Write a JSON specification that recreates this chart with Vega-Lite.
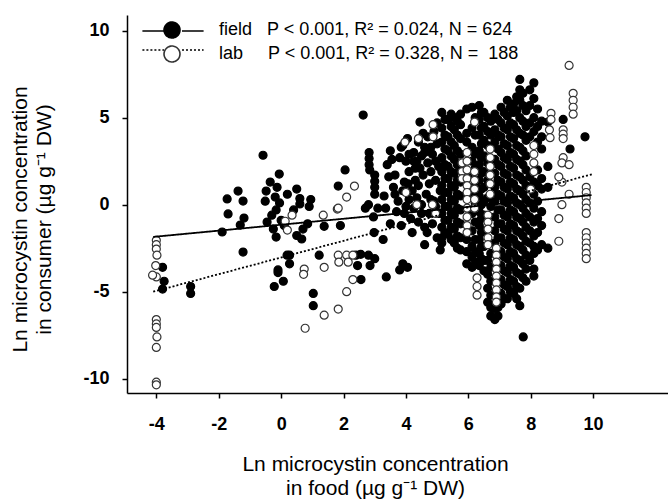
{
"$schema": "https://vega.github.io/schema/vega-lite/v6.json",
"width": 541, "height": 378,
"autosize": {"type": "none"},
"padding": {"left": 127, "top": 15, "right": 0, "bottom": 110},
"background": "white",
"config": {"view": {"stroke": null}, "font": "Liberation Sans"},
"datasets": {
"pts": [
{"g":"f","x":-3.8,"y":-3.6},{"g":"f","x":-3.8,"y":-4.85},{"g":"f","x":-2.9,"y":-4.7},{"g":"f","x":-2.9,"y":-5.1},{"g":"f","x":-3.75,"y":-4.4},
{"g":"f","x":-0.58,"y":2.84},{"g":"f","x":-0.06,"y":1.76},{"g":"f","x":-0.13,"y":1.0},{"g":"f","x":-0.48,"y":0.78},{"g":"f","x":-0.19,"y":0.44},{"g":"f","x":-0.51,"y":0.2},{"g":"f","x":-1.38,"y":0.78},{"g":"f","x":-1.73,"y":0.33},{"g":"f","x":-1.22,"y":0.21},{"g":"f","x":-1.7,"y":-0.53},{"g":"f","x":-1.19,"y":-0.77},{"g":"f","x":-0.16,"y":-0.3},{"g":"f","x":-0.45,"y":-1.0},{"g":"f","x":-1.31,"y":-1.17},{"g":"f","x":-1.89,"y":-1.57},{"g":"f","x":-0.16,"y":-1.86},{"g":"f","x":-1.22,"y":-2.72},{"g":"f","x":0.19,"y":-2.9},{"g":"f","x":-0.1,"y":-3.75},{"g":"f","x":-0.3,"y":-0.6},{"g":"f","x":-0.05,"y":0.1},{"g":"f","x":0.0,"y":-0.9},{"g":"f","x":-0.25,"y":-1.4},{"g":"f","x":0.1,"y":-1.2},{"g":"f","x":-0.35,"y":1.3},
{"g":"f","x":0.6,"y":0.04},{"g":"f","x":0.9,"y":-0.1},{"g":"f","x":0.5,"y":-1.77},{"g":"f","x":0.66,"y":-1.97},{"g":"f","x":0.7,"y":-1.4},{"g":"f","x":0.85,"y":-1.1},{"g":"f","x":0.27,"y":-2.9},{"g":"f","x":0.27,"y":-3.4},{"g":"f","x":-0.1,"y":-3.9},{"g":"f","x":0.07,"y":-4.4},{"g":"f","x":-0.22,"y":-4.7},{"g":"f","x":1.03,"y":-5.1},{"g":"f","x":1.03,"y":-5.8},{"g":"f","x":1.22,"y":-2.9},{"g":"f","x":1.38,"y":-1.24},{"g":"f","x":1.9,"y":-1.2},{"g":"f","x":2.7,"y":-0.2},{"g":"f","x":2.96,"y":-0.7},{"g":"f","x":2.98,"y":-1.6},{"g":"f","x":3.27,"y":-2.0},{"g":"f","x":3.37,"y":-4.15},{"g":"f","x":2.4,"y":-2.9},{"g":"f","x":2.55,"y":-2.85},{"g":"f","x":2.8,"y":-2.9},{"g":"f","x":3.0,"y":-3.1},{"g":"f","x":2.85,"y":-3.5},{"g":"f","x":2.45,"y":-3.5},{"g":"f","x":3.9,"y":-3.4},{"g":"f","x":4.05,"y":-3.6},{"g":"f","x":3.8,"y":-3.75},{"g":"f","x":2.56,"y":-4.3},{"g":"f","x":4.6,"y":-2.3},{"g":"f","x":2.63,"y":5.15},{"g":"f","x":2.05,"y":2.0},{"g":"f","x":1.83,"y":1.07},{"g":"f","x":0.5,"y":0.9},{"g":"f","x":0.6,"y":0.35},{"g":"f","x":0.95,"y":0.3},{"g":"f","x":2.8,"y":0.0},{"g":"f","x":3.1,"y":-0.2},{"g":"f","x":3.65,"y":1.7},{"g":"f","x":4.07,"y":1.2},{"g":"f","x":2.82,"y":3.0},{"g":"f","x":2.82,"y":2.65},{"g":"f","x":2.82,"y":2.3},{"g":"f","x":2.84,"y":2.0},{"g":"f","x":3.0,"y":1.7},{"g":"f","x":3.0,"y":1.35},{"g":"f","x":3.0,"y":1.0},{"g":"f","x":3.0,"y":0.6},{"g":"f","x":3.85,"y":3.3},{"g":"f","x":4.1,"y":2.9},{"g":"f","x":4.35,"y":2.5},{"g":"f","x":4.6,"y":3.0},{"g":"f","x":4.45,"y":4.75},{"g":"f","x":0.4,"y":-0.3},{"g":"f","x":0.2,"y":0.6},
{"g":"f","x":3.4,"y":2.3},{"g":"f","x":3.5,"y":3.1},{"g":"f","x":3.6,"y":1.0},{"g":"f","x":3.3,"y":0.5},{"g":"f","x":3.7,"y":-0.4},{"g":"f","x":3.5,"y":-1.1},{"g":"f","x":3.8,"y":2.7},{"g":"f","x":3.45,"y":1.6},{"g":"f","x":3.75,"y":0.2},{"g":"f","x":3.35,"y":-0.2},
{"g":"f","x":3.9,"y":3.4},{"g":"f","x":4.0,"y":2.5},{"g":"f","x":4.1,"y":1.9},{"g":"f","x":3.95,"y":1.3},{"g":"f","x":4.2,"y":0.8},{"g":"f","x":4.0,"y":-0.1},{"g":"f","x":4.15,"y":-0.8},{"g":"f","x":4.25,"y":3.0},{"g":"f","x":4.3,"y":2.1},{"g":"f","x":3.85,"y":-1.2},{"g":"f","x":4.1,"y":0.3},{"g":"f","x":4.2,"y":-1.6},{"g":"f","x":4.3,"y":1.4},
{"g":"f","x":4.4,"y":3.6},{"g":"f","x":4.5,"y":2.8},{"g":"f","x":4.6,"y":3.3},{"g":"f","x":4.7,"y":2.4},{"g":"f","x":4.55,"y":1.7},{"g":"f","x":4.4,"y":1.1},{"g":"f","x":4.65,"y":0.6},{"g":"f","x":4.5,"y":0.0},{"g":"f","x":4.75,"y":-0.5},{"g":"f","x":4.4,"y":-1.0},{"g":"f","x":4.6,"y":-1.3},{"g":"f","x":4.8,"y":1.9},{"g":"f","x":4.35,"y":0.4},{"g":"f","x":4.7,"y":3.9},{"g":"f","x":4.68,"y":-1.6},
{"g":"f","x":4.9,"y":4.2},{"g":"f","x":5.0,"y":3.5},{"g":"f","x":4.85,"y":2.9},{"g":"f","x":5.05,"y":2.2},{"g":"f","x":4.95,"y":1.4},{"g":"f","x":5.1,"y":0.8},{"g":"f","x":4.9,"y":0.2},{"g":"f","x":5.05,"y":-0.5},{"g":"f","x":4.85,"y":-1.1},{"g":"f","x":5.0,"y":-1.9},{"g":"f","x":5.1,"y":-2.6},{"g":"f","x":4.95,"y":2.5},
{"g":"f","x":3.55,"y":2.6},{"g":"f","x":3.65,"y":0.6},{"g":"f","x":3.9,"y":0.8},{"g":"f","x":3.95,"y":-0.5},{"g":"f","x":4.05,"y":3.8},{"g":"f","x":4.25,"y":2.5},{"g":"f","x":4.25,"y":-0.2},{"g":"f","x":4.45,"y":2.1},{"g":"f","x":4.5,"y":-0.5},{"g":"f","x":4.55,"y":4.1},{"g":"f","x":4.75,"y":1.2},{"g":"f","x":4.8,"y":0.3},{"g":"f","x":4.8,"y":3.3},{"g":"f","x":4.95,"y":-0.1},{"g":"f","x":5.0,"y":4.7},
{"g":"f","x":5.15,"y":5.3},{"g":"f","x":5.15,"y":4.4},{"g":"f","x":5.15,"y":3.6},{"g":"f","x":5.15,"y":2.7},{"g":"f","x":5.15,"y":1.9},{"g":"f","x":5.15,"y":1.1},{"g":"f","x":5.15,"y":0.3},{"g":"f","x":5.15,"y":-0.5},{"g":"f","x":5.15,"y":-1.3},{"g":"f","x":5.15,"y":-1.9},{"g":"f","x":5.15,"y":-2.2},
{"g":"f","x":5.25,"y":4.9},{"g":"f","x":5.25,"y":4.0},{"g":"f","x":5.25,"y":3.2},{"g":"f","x":5.25,"y":2.3},{"g":"f","x":5.25,"y":1.5},{"g":"f","x":5.25,"y":0.7},{"g":"f","x":5.25,"y":-0.1},{"g":"f","x":5.25,"y":-0.9},{"g":"f","x":5.25,"y":-1.6},
{"g":"f","x":5.35,"y":4.9},{"g":"f","x":5.35,"y":3.9},{"g":"f","x":5.35,"y":3.1},{"g":"f","x":5.35,"y":2.2},{"g":"f","x":5.35,"y":1.5},{"g":"f","x":5.35,"y":0.7},{"g":"f","x":5.35,"y":-0.1},{"g":"f","x":5.35,"y":-0.9},{"g":"f","x":5.35,"y":-1.7},
{"g":"f","x":5.45,"y":5.2},{"g":"f","x":5.45,"y":4.5},{"g":"f","x":5.45,"y":3.6},{"g":"f","x":5.45,"y":2.8},{"g":"f","x":5.45,"y":1.9},{"g":"f","x":5.45,"y":1.1},{"g":"f","x":5.45,"y":0.3},{"g":"f","x":5.45,"y":-0.5},{"g":"f","x":5.45,"y":-1.3},{"g":"f","x":5.45,"y":-2.0},
{"g":"f","x":5.55,"y":5.0},{"g":"f","x":5.55,"y":4.3},{"g":"f","x":5.55,"y":3.4},{"g":"f","x":5.55,"y":2.6},{"g":"f","x":5.55,"y":1.8},{"g":"f","x":5.55,"y":1.0},{"g":"f","x":5.55,"y":0.2},{"g":"f","x":5.55,"y":-0.6},{"g":"f","x":5.55,"y":-1.4},{"g":"f","x":5.55,"y":-2.2},
{"g":"f","x":5.65,"y":4.8},{"g":"f","x":5.65,"y":4.0},{"g":"f","x":5.65,"y":3.1},{"g":"f","x":5.65,"y":2.3},{"g":"f","x":5.65,"y":1.4},{"g":"f","x":5.65,"y":0.6},{"g":"f","x":5.65,"y":-0.2},{"g":"f","x":5.65,"y":-1.0},{"g":"f","x":5.65,"y":-1.8},{"g":"f","x":5.65,"y":-2.5},
{"g":"f","x":5.75,"y":5.2},{"g":"f","x":5.75,"y":4.6},{"g":"f","x":5.75,"y":3.8},{"g":"f","x":5.75,"y":2.9},{"g":"f","x":5.75,"y":2.1},{"g":"f","x":5.75,"y":1.3},{"g":"f","x":5.75,"y":0.5},{"g":"f","x":5.75,"y":-0.3},{"g":"f","x":5.75,"y":-1.1},{"g":"f","x":5.75,"y":-1.9},{"g":"f","x":5.75,"y":-2.6},
{"g":"f","x":5.95,"y":5.5},{"g":"f","x":5.95,"y":4.1},{"g":"f","x":5.95,"y":3.6},{"g":"f","x":5.95,"y":-2.0},{"g":"f","x":5.95,"y":-2.7},{"g":"f","x":5.95,"y":-3.4},
{"g":"f","x":6.12,"y":5.6},{"g":"f","x":6.12,"y":4.4},{"g":"f","x":6.12,"y":3.3},{"g":"f","x":6.12,"y":2.5},{"g":"f","x":6.12,"y":1.6},{"g":"f","x":6.12,"y":0.6},{"g":"f","x":6.12,"y":-0.5},{"g":"f","x":6.12,"y":-1.5},{"g":"f","x":6.12,"y":-2.4},{"g":"f","x":6.12,"y":-3.0},{"g":"f","x":6.12,"y":-3.6},
{"g":"f","x":6.22,"y":5.0},{"g":"f","x":6.22,"y":4.0},{"g":"f","x":6.22,"y":2.9},{"g":"f","x":6.22,"y":2.1},{"g":"f","x":6.22,"y":1.1},{"g":"f","x":6.22,"y":0.1},{"g":"f","x":6.22,"y":-1.0},{"g":"f","x":6.22,"y":-2.0},{"g":"f","x":6.22,"y":-2.7},{"g":"f","x":6.22,"y":-3.3},
{"g":"f","x":6.35,"y":5.7},{"g":"f","x":6.35,"y":4.9},{"g":"f","x":6.35,"y":4.0},{"g":"f","x":6.35,"y":3.1},{"g":"f","x":6.35,"y":2.3},{"g":"f","x":6.35,"y":1.4},{"g":"f","x":6.35,"y":0.5},{"g":"f","x":6.35,"y":-0.4},{"g":"f","x":6.35,"y":-1.2},{"g":"f","x":6.35,"y":-2.0},{"g":"f","x":6.35,"y":-2.8},{"g":"f","x":6.35,"y":-3.5},
{"g":"f","x":6.42,"y":5.3},{"g":"f","x":6.42,"y":4.4},{"g":"f","x":6.42,"y":3.5},{"g":"f","x":6.42,"y":2.7},{"g":"f","x":6.42,"y":1.8},{"g":"f","x":6.42,"y":0.9},{"g":"f","x":6.42,"y":0.0},{"g":"f","x":6.42,"y":-0.8},{"g":"f","x":6.42,"y":-1.6},{"g":"f","x":6.42,"y":-2.4},{"g":"f","x":6.42,"y":-3.1},
{"g":"f","x":6.5,"y":5.3},{"g":"f","x":6.5,"y":4.5},{"g":"f","x":6.5,"y":3.7},{"g":"f","x":6.5,"y":2.8},{"g":"f","x":6.5,"y":1.9},{"g":"f","x":6.5,"y":1.0},{"g":"f","x":6.5,"y":0.2},{"g":"f","x":6.5,"y":-0.6},{"g":"f","x":6.5,"y":-1.5},{"g":"f","x":6.5,"y":-2.4},{"g":"f","x":6.5,"y":-3.2},{"g":"f","x":6.5,"y":-3.8},
{"g":"f","x":6.62,"y":5.0},{"g":"f","x":6.62,"y":4.2},{"g":"f","x":6.62,"y":3.4},{"g":"f","x":6.62,"y":2.4},{"g":"f","x":6.62,"y":1.4},{"g":"f","x":6.62,"y":0.4},{"g":"f","x":6.62,"y":-3.2},{"g":"f","x":6.62,"y":-4.0},{"g":"f","x":6.62,"y":-4.8},{"g":"f","x":6.62,"y":-5.6},
{"g":"f","x":6.72,"y":4.8},{"g":"f","x":6.72,"y":4.0},{"g":"f","x":6.72,"y":-0.1},{"g":"f","x":6.72,"y":-2.8},{"g":"f","x":6.72,"y":-3.6},{"g":"f","x":6.72,"y":-4.4},{"g":"f","x":6.72,"y":-5.2},{"g":"f","x":6.72,"y":-5.9},{"g":"f","x":6.72,"y":-6.4},
{"g":"f","x":6.85,"y":5.2},{"g":"f","x":6.85,"y":4.3},{"g":"f","x":6.85,"y":3.6},{"g":"f","x":6.85,"y":2.6},{"g":"f","x":6.85,"y":1.8},{"g":"f","x":6.85,"y":1.0},{"g":"f","x":6.85,"y":0.2},{"g":"f","x":6.85,"y":-0.7},{"g":"f","x":6.85,"y":-1.5},{"g":"f","x":6.85,"y":-2.2},{"g":"f","x":6.85,"y":-6.0},{"g":"f","x":6.85,"y":-6.6},
{"g":"f","x":6.95,"y":4.9},{"g":"f","x":6.95,"y":4.0},{"g":"f","x":6.95,"y":3.2},{"g":"f","x":6.95,"y":2.3},{"g":"f","x":6.95,"y":1.4},{"g":"f","x":6.95,"y":0.6},{"g":"f","x":6.95,"y":-0.3},{"g":"f","x":6.95,"y":-1.1},{"g":"f","x":6.95,"y":-1.9},{"g":"f","x":6.95,"y":-5.9},{"g":"f","x":6.95,"y":-6.4},
{"g":"f","x":7.05,"y":5.6},{"g":"f","x":7.05,"y":4.7},{"g":"f","x":7.05,"y":3.9},{"g":"f","x":7.05,"y":3.0},{"g":"f","x":7.05,"y":2.2},{"g":"f","x":7.05,"y":1.3},{"g":"f","x":7.05,"y":0.5},{"g":"f","x":7.05,"y":-0.3},{"g":"f","x":7.05,"y":-1.1},{"g":"f","x":7.05,"y":-1.9},{"g":"f","x":7.05,"y":-2.7},{"g":"f","x":7.05,"y":-3.5},{"g":"f","x":7.05,"y":-4.3},{"g":"f","x":7.05,"y":-5.1},{"g":"f","x":7.05,"y":-5.7},
{"g":"f","x":7.15,"y":5.3},{"g":"f","x":7.15,"y":4.4},{"g":"f","x":7.15,"y":3.5},{"g":"f","x":7.15,"y":2.7},{"g":"f","x":7.15,"y":1.8},{"g":"f","x":7.15,"y":1.0},{"g":"f","x":7.15,"y":0.2},{"g":"f","x":7.15,"y":-0.6},{"g":"f","x":7.15,"y":-1.4},{"g":"f","x":7.15,"y":-2.2},{"g":"f","x":7.15,"y":-3.0},{"g":"f","x":7.15,"y":-3.8},{"g":"f","x":7.15,"y":-4.6},{"g":"f","x":7.15,"y":-5.4},
{"g":"f","x":7.25,"y":6.0},{"g":"f","x":7.25,"y":5.1},{"g":"f","x":7.25,"y":4.3},{"g":"f","x":7.25,"y":3.4},{"g":"f","x":7.25,"y":2.6},{"g":"f","x":7.25,"y":1.7},{"g":"f","x":7.25,"y":0.9},{"g":"f","x":7.25,"y":0.1},{"g":"f","x":7.25,"y":-0.7},{"g":"f","x":7.25,"y":-1.5},{"g":"f","x":7.25,"y":-2.3},{"g":"f","x":7.25,"y":-3.1},{"g":"f","x":7.25,"y":-3.9},{"g":"f","x":7.25,"y":-4.7},{"g":"f","x":7.25,"y":-5.4},
{"g":"f","x":7.35,"y":5.6},{"g":"f","x":7.35,"y":4.7},{"g":"f","x":7.35,"y":3.9},{"g":"f","x":7.35,"y":3.0},{"g":"f","x":7.35,"y":2.2},{"g":"f","x":7.35,"y":1.3},{"g":"f","x":7.35,"y":0.5},{"g":"f","x":7.35,"y":-0.3},{"g":"f","x":7.35,"y":-1.1},{"g":"f","x":7.35,"y":-1.9},{"g":"f","x":7.35,"y":-2.7},{"g":"f","x":7.35,"y":-3.5},{"g":"f","x":7.35,"y":-4.3},{"g":"f","x":7.35,"y":-5.0},
{"g":"f","x":7.45,"y":5.8},{"g":"f","x":7.45,"y":5.3},{"g":"f","x":7.45,"y":4.6},{"g":"f","x":7.45,"y":3.8},{"g":"f","x":7.45,"y":2.9},{"g":"f","x":7.45,"y":2.1},{"g":"f","x":7.45,"y":1.2},{"g":"f","x":7.45,"y":0.4},{"g":"f","x":7.45,"y":-0.4},{"g":"f","x":7.45,"y":-1.2},{"g":"f","x":7.45,"y":-2.0},{"g":"f","x":7.45,"y":-2.8},{"g":"f","x":7.45,"y":-3.6},{"g":"f","x":7.45,"y":-4.4},{"g":"f","x":7.45,"y":-5.1},
{"g":"f","x":7.55,"y":6.2},{"g":"f","x":7.55,"y":5.4},{"g":"f","x":7.55,"y":4.3},{"g":"f","x":7.55,"y":3.4},{"g":"f","x":7.55,"y":2.6},{"g":"f","x":7.55,"y":1.7},{"g":"f","x":7.55,"y":0.9},{"g":"f","x":7.55,"y":0.1},{"g":"f","x":7.55,"y":-0.7},{"g":"f","x":7.55,"y":-1.5},{"g":"f","x":7.55,"y":-2.3},{"g":"f","x":7.55,"y":-3.1},{"g":"f","x":7.55,"y":-3.9},{"g":"f","x":7.55,"y":-4.7},{"g":"f","x":7.55,"y":-5.4},
{"g":"f","x":7.65,"y":7.2},{"g":"f","x":7.65,"y":6.6},{"g":"f","x":7.65,"y":6.0},{"g":"f","x":7.65,"y":5.0},{"g":"f","x":7.65,"y":4.1},{"g":"f","x":7.65,"y":3.3},{"g":"f","x":7.65,"y":2.5},{"g":"f","x":7.65,"y":1.6},{"g":"f","x":7.65,"y":0.8},{"g":"f","x":7.65,"y":0.0},{"g":"f","x":7.65,"y":-0.8},{"g":"f","x":7.65,"y":-1.6},{"g":"f","x":7.65,"y":-2.4},{"g":"f","x":7.65,"y":-3.2},{"g":"f","x":7.65,"y":-4.0},{"g":"f","x":7.65,"y":-4.8},{"g":"f","x":7.65,"y":-5.8},{"g":"f","x":7.76,"y":-7.6},
{"g":"f","x":7.75,"y":6.4},{"g":"f","x":7.75,"y":5.7},{"g":"f","x":7.75,"y":4.8},{"g":"f","x":7.75,"y":4.0},{"g":"f","x":7.75,"y":3.1},{"g":"f","x":7.75,"y":2.3},{"g":"f","x":7.75,"y":1.4},{"g":"f","x":7.75,"y":0.6},{"g":"f","x":7.75,"y":-0.2},{"g":"f","x":7.75,"y":-1.0},{"g":"f","x":7.75,"y":-1.8},{"g":"f","x":7.75,"y":-2.6},{"g":"f","x":7.75,"y":-3.4},{"g":"f","x":7.75,"y":-4.2},
{"g":"f","x":7.85,"y":5.4},{"g":"f","x":7.85,"y":4.5},{"g":"f","x":7.85,"y":3.7},{"g":"f","x":7.85,"y":2.8},{"g":"f","x":7.85,"y":2.0},{"g":"f","x":7.85,"y":1.1},{"g":"f","x":7.85,"y":0.3},{"g":"f","x":7.85,"y":-0.5},{"g":"f","x":7.85,"y":-1.3},{"g":"f","x":7.85,"y":-2.1},{"g":"f","x":7.85,"y":-2.9},{"g":"f","x":7.85,"y":-3.7},{"g":"f","x":7.85,"y":-4.4},
{"g":"f","x":7.97,"y":6.6},{"g":"f","x":7.97,"y":5.7},{"g":"f","x":7.97,"y":4.7},{"g":"f","x":7.97,"y":3.9},{"g":"f","x":7.97,"y":1.6},{"g":"f","x":7.97,"y":0.9},{"g":"f","x":7.97,"y":0.1},{"g":"f","x":7.97,"y":-0.7},{"g":"f","x":7.97,"y":-1.5},{"g":"f","x":7.97,"y":-2.2},{"g":"f","x":7.97,"y":-3.2},
{"g":"f","x":8.1,"y":7.0},{"g":"f","x":8.1,"y":6.1},{"g":"f","x":8.1,"y":5.0},{"g":"f","x":8.1,"y":4.2},{"g":"f","x":8.1,"y":1.3},{"g":"f","x":8.1,"y":0.6},{"g":"f","x":8.1,"y":-0.2},{"g":"f","x":8.1,"y":-1.0},{"g":"f","x":8.1,"y":-1.8},{"g":"f","x":8.1,"y":-2.4},{"g":"f","x":8.1,"y":-2.8},{"g":"f","x":8.1,"y":-3.7},{"g":"f","x":8.1,"y":-4.1},
{"g":"f","x":8.22,"y":5.5},{"g":"f","x":8.22,"y":4.5},{"g":"f","x":8.22,"y":3.6},{"g":"f","x":8.22,"y":2.0},{"g":"f","x":8.22,"y":1.1},{"g":"f","x":8.22,"y":0.2},{"g":"f","x":8.22,"y":-0.8},{"g":"f","x":8.22,"y":-1.6},{"g":"f","x":8.22,"y":-2.6},
{"g":"f","x":8.35,"y":4.8},{"g":"f","x":8.35,"y":3.9},{"g":"f","x":8.35,"y":3.2},{"g":"f","x":8.35,"y":1.5},{"g":"f","x":8.35,"y":0.9},{"g":"f","x":8.35,"y":-0.4},{"g":"f","x":8.35,"y":-1.2},{"g":"f","x":8.35,"y":-2.3},
{"g":"f","x":8.55,"y":4.75},{"g":"f","x":8.55,"y":2.2},{"g":"f","x":8.55,"y":1.0},{"g":"f","x":8.55,"y":-2.5},
{"g":"f","x":9.04,"y":4.9},{"g":"f","x":9.26,"y":3.2},{"g":"f","x":9.74,"y":3.9},
{"g":"l","x":-4.0,"y":-2.05},{"g":"l","x":-4.0,"y":-2.3},{"g":"l","x":-4.0,"y":-2.55},{"g":"l","x":-3.98,"y":-2.9},{"g":"l","x":-4.02,"y":-3.5},{"g":"l","x":-4.0,"y":-4.15},{"g":"l","x":-4.12,"y":-4.05},{"g":"l","x":-4.0,"y":-6.6},{"g":"l","x":-4.0,"y":-6.85},{"g":"l","x":-4.0,"y":-7.05},{"g":"l","x":-3.98,"y":-7.6},{"g":"l","x":-4.0,"y":-8.2},{"g":"l","x":-4.0,"y":-10.2},{"g":"l","x":-4.0,"y":-10.35},
{"g":"l","x":0.35,"y":-0.6},{"g":"l","x":0.2,"y":-1.46},{"g":"l","x":0.13,"y":-0.95},{"g":"l","x":0.74,"y":-3.7},{"g":"l","x":0.72,"y":-4.0},{"g":"l","x":0.77,"y":-7.1},{"g":"l","x":1.38,"y":-3.6},{"g":"l","x":1.38,"y":-6.35},{"g":"l","x":1.8,"y":-0.25},{"g":"l","x":1.35,"y":-0.6},{"g":"l","x":1.83,"y":-2.9},{"g":"l","x":2.1,"y":-2.9},{"g":"l","x":2.3,"y":-2.9},{"g":"l","x":1.85,"y":-3.3},{"g":"l","x":2.15,"y":-3.3},{"g":"l","x":1.83,"y":-6.0},{"g":"l","x":2.1,"y":-5.0},{"g":"l","x":2.3,"y":-4.3},{"g":"l","x":2.35,"y":1.07},{"g":"l","x":2.1,"y":0.44},{"g":"l","x":1.83,"y":-0.2},
{"g":"l","x":3.97,"y":3.6},{"g":"l","x":4.4,"y":3.8},{"g":"l","x":4.0,"y":0.7},{"g":"l","x":4.35,"y":0.0},{"g":"l","x":4.87,"y":4.6},{"g":"l","x":4.87,"y":3.9},{"g":"l","x":4.85,"y":0.0},{"g":"l","x":4.95,"y":-0.5},{"g":"l","x":5.8,"y":2.4},{"g":"l","x":5.8,"y":1.9},{"g":"l","x":5.8,"y":1.5},
{"g":"l","x":5.96,"y":3.0},{"g":"l","x":5.96,"y":2.5},{"g":"l","x":5.96,"y":2.0},{"g":"l","x":5.96,"y":1.5},{"g":"l","x":5.96,"y":1.1},{"g":"l","x":5.96,"y":0.7},{"g":"l","x":5.96,"y":0.3},{"g":"l","x":5.96,"y":-0.2},{"g":"l","x":5.96,"y":-0.7},{"g":"l","x":5.96,"y":-1.2},{"g":"l","x":5.96,"y":-1.6},
{"g":"l","x":6.2,"y":4.75},{"g":"l","x":6.2,"y":1.9},{"g":"l","x":6.2,"y":1.4},{"g":"l","x":6.2,"y":0.9},{"g":"l","x":6.2,"y":0.3},{"g":"l","x":6.2,"y":-0.2},
{"g":"l","x":6.28,"y":-4.2},{"g":"l","x":6.28,"y":-4.7},{"g":"l","x":6.28,"y":-5.2},
{"g":"l","x":6.63,"y":-0.6},{"g":"l","x":6.63,"y":-1.0},{"g":"l","x":6.63,"y":-1.4},{"g":"l","x":6.63,"y":-1.9},{"g":"l","x":6.63,"y":-2.3},
{"g":"l","x":6.7,"y":3.2},{"g":"l","x":6.7,"y":2.7},{"g":"l","x":6.7,"y":2.2},{"g":"l","x":6.7,"y":1.7},{"g":"l","x":6.7,"y":1.2},{"g":"l","x":6.7,"y":0.6},
{"g":"l","x":6.9,"y":-2.5},{"g":"l","x":6.9,"y":-2.9},{"g":"l","x":6.9,"y":-3.3},{"g":"l","x":6.9,"y":-3.7},{"g":"l","x":6.9,"y":-4.1},{"g":"l","x":6.9,"y":-4.5},{"g":"l","x":6.9,"y":-4.9},{"g":"l","x":6.9,"y":-5.3},{"g":"l","x":6.9,"y":-5.6},
{"g":"l","x":8.1,"y":3.4},{"g":"l","x":8.1,"y":2.9},{"g":"l","x":8.1,"y":2.4},{"g":"l","x":8.1,"y":1.9},{"g":"l","x":8.0,"y":0.9},
{"g":"l","x":8.65,"y":5.25},{"g":"l","x":8.65,"y":4.9},{"g":"l","x":8.6,"y":4.3},{"g":"l","x":8.62,"y":3.85},
{"g":"l","x":9.04,"y":4.3},{"g":"l","x":9.04,"y":4.05},{"g":"l","x":9.04,"y":3.8},{"g":"l","x":9.04,"y":2.7},{"g":"l","x":9.0,"y":2.4},{"g":"l","x":9.23,"y":2.3},{"g":"l","x":9.0,"y":1.3},{"g":"l","x":8.9,"y":1.6},{"g":"l","x":9.23,"y":0.6},{"g":"l","x":9.0,"y":0.0},{"g":"l","x":8.9,"y":-0.8},{"g":"l","x":8.9,"y":-2.1},
{"g":"l","x":9.36,"y":6.4},{"g":"l","x":9.36,"y":6.0},{"g":"l","x":9.36,"y":5.6},{"g":"l","x":9.36,"y":5.2},{"g":"l","x":9.23,"y":8.0},
{"g":"l","x":9.78,"y":1.0},{"g":"l","x":9.78,"y":0.7},{"g":"l","x":9.78,"y":0.4},{"g":"l","x":9.78,"y":0.1},{"g":"l","x":9.78,"y":-0.2},{"g":"l","x":9.78,"y":-0.5},{"g":"l","x":9.78,"y":-1.6},{"g":"l","x":9.78,"y":-1.9},{"g":"l","x":9.78,"y":-2.2},{"g":"l","x":9.78,"y":-2.5},{"g":"l","x":9.78,"y":-2.8},{"g":"l","x":9.78,"y":-3.1}
],
"fit": [
{"s":"F","x":-4.1,"y":-1.85},{"s":"F","x":9.95,"y":0.55},
{"s":"L","x":-4.1,"y":-5.0},{"s":"L","x":9.97,"y":1.75}
]
},
"layer": [
{
"data": {"name": "pts"},
"mark": {"type": "point", "filled": true, "size": 64, "strokeWidth": 1.2, "opacity": 1, "strokeOpacity": 1, "fillOpacity": 1},
"encoding": {
"x": {"field": "x", "type": "quantitative", "scale": {"domain": [-4.94, 12.4], "nice": false, "zero": false},
"axis": {"values": [-4,-2,0,2,4,6,8,10], "grid": false, "domainColor": "black", "domainWidth": 1.5, "tickColor": "black", "tickWidth": 1.5, "tickSize": 5,
"labelExpr": "replace(datum.label, '−', '-')",
"labelFont": "Liberation Sans", "labelFontSize": 18, "labelFontWeight": "bold", "labelColor": "black", "labelPadding": 17, "labelFlush": false, "labelOverlap": false,
"title": ["Ln microcystin concentration", "in food (µg g⁻¹ DW)"], "titleFont": "Liberation Sans", "titleFontSize": 21, "titleFontWeight": "normal", "titleColor": "black",
"titleX": 248, "titleY": 77, "titleBaseline": "alphabetic", "titleLineHeight": 24, "titleAlign": "center"}},
"y": {"field": "y", "type": "quantitative", "scale": {"domain": [-10.82, 10.9], "nice": false, "zero": false},
"axis": {"values": [-10,-5,0,5,10], "grid": false, "domainColor": "black", "domainWidth": 1.5, "tickColor": "black", "tickWidth": 1.5, "tickSize": 5,
"labelExpr": "replace(datum.label, '−', '-')",
"labelFont": "Liberation Sans", "labelFontSize": 18, "labelFontWeight": "bold", "labelColor": "black", "labelPadding": 13, "labelFlush": false, "labelOverlap": false,
"title": ["Ln microcystin concentration", "in consumer (µg g⁻¹ DW)"], "titleFont": "Liberation Sans", "titleFontSize": 21, "titleFontWeight": "normal", "titleColor": "black",
"titleX": -101, "titleY": 204, "titleBaseline": "alphabetic", "titleLineHeight": 24, "titleAngle": -90, "titleAlign": "center"}},
"fill": {"field": "g", "type": "nominal", "scale": {"domain": ["f","l"], "range": ["black","white"]},
"legend": {"orient": "none", "legendX": 36, "legendY": 6, "title": null, "padding": 0, "symbolType": "circle", "symbolSize": 254, "symbolStrokeWidth": 1.6, "symbolStrokeColor": "black", "symbolDash": [1,0],
"labelFontSize": 18, "labelFont": "Liberation Sans", "labelColor": "black", "labelOffset": 38, "rowPadding": 0, "labelLimit": 600,
"labelExpr": "datum.value == 'f' ? 'field\u00a0\u00a0\u00a0P < 0.001, R² = 0.024, N = 624' : 'lab\u00a0\u00a0\u00a0\u00a0\u00a0P < 0.001, R² = 0.328, N =\u00a0\u00a0188'"}},
"stroke": {"field": "g", "type": "nominal", "scale": {"domain": ["f","l"], "range": ["black","#333333"]}, "legend": null}
}
},
{
"data": {"name": "fit"},
"mark": {"type": "line", "color": "black", "strokeWidth": 1.8},
"encoding": {
"x": {"field": "x", "type": "quantitative"},
"y": {"field": "y", "type": "quantitative"},
"strokeDash": {"field": "s", "type": "nominal", "scale": {"domain": ["F","L"], "range": [[1,0],[2,2]]},
"legend": {"orient": "none", "legendX": 36, "legendY": 6, "title": null, "padding": 0, "symbolType": "M-3.4,0L-1,0M1,0L3.4,0", "symbolSize": 324, "symbolStrokeWidth": 1.6, "symbolStrokeColor": "black",
"labelFontSize": 18, "labelFont": "Liberation Sans", "labelOffset": 38, "rowPadding": 0, "labelExpr": "''"}}
}
}
]
}
